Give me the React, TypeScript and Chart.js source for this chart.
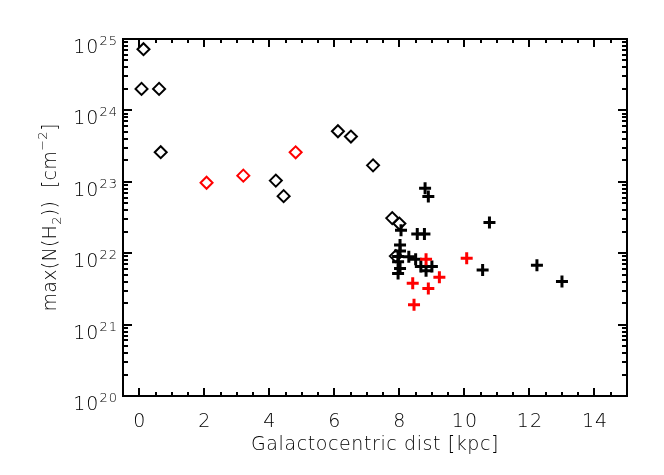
import React, { useEffect, useRef } from "react";
import { Chart, registerables } from "chart.js";

Chart.register(...registerables);

// ---- data (Galactocentric distance [kpc], max N(H2) [cm^-2]) ----
const blackDiamondX = [0.13, 0.07, 0.61, 0.66, 4.2, 4.44, 6.11, 6.51, 7.19, 7.78, 8.0, 7.89];
const blackDiamondY = [7.2e24, 2.0e24, 2.0e24, 2.6e23, 1.04e23, 6.3e22, 5.1e23, 4.3e23, 1.7e23, 3.1e22, 2.6e22, 9.1e21];

const redDiamondX = [2.07, 3.2, 4.81];
const redDiamondY = [9.7e22, 1.22e23, 2.59e23];

const blackPlusX = [8.79, 8.89, 8.05, 8.55, 8.77, 8.02, 8.02, 7.96, 8.29, 8.5, 7.96, 8.02, 7.96, 8.66, 8.82, 9.0, 10.77, 10.56, 12.23, 13.0];
const blackPlusY = [8.1e22, 6.2e22, 2.1e22, 1.86e22, 1.86e22, 1.3e22, 1.07e22, 9.0e21, 8.9e21, 8.2e21, 7.6e21, 6.1e21, 5.2e21, 6.5e21, 5.7e21, 6.5e21, 2.7e22, 5.8e21, 6.8e21, 4.0e21];

const redPlusX = [8.82, 9.23, 8.41, 8.89, 8.45, 10.07];
const redPlusY = [8.2e21, 4.6e21, 3.8e21, 3.2e21, 1.9e21, 8.5e21];

const xTickValues = [0, 2, 4, 6, 8, 10, 12, 14];
const yDecades = [20, 21, 22, 23, 24, 25];
const xTitle = "Galactocentric dist [kpc]";

const FONT_FAMILY = '"DejaVu Sans", "Liberation Sans", sans-serif';
const TEXT_COLOR = "#000";

const toPoints = (xs: number[], ys: number[]) => xs.map((x, i) => ({ x, y: ys[i] }));

type Seg = { t: string; size: number; dy: number };

function drawSegs(ctx: CanvasRenderingContext2D, segs: Seg[], x: number, y: number) {
  let cx = x;
  for (const s of segs) {
    ctx.font = `200 ${s.size}px ${FONT_FAMILY}`;
    ctx.fillText(s.t, cx, y + s.dy);
    cx += ctx.measureText(s.t).width;
  }
}
function segsWidth(ctx: CanvasRenderingContext2D, segs: Seg[]) {
  let w = 0;
  for (const s of segs) {
    ctx.font = `200 ${s.size}px ${FONT_FAMILY}`;
    w += ctx.measureText(s.t).width;
  }
  return w;
}

export default function App() {
  const ref = useRef<HTMLCanvasElement>(null);

  useEffect(() => {
    document.body.style.margin = "0";
    const canvas = ref.current!;
    const ctx2d = canvas.getContext("2d")!;

    const framePlugin = {
      id: "idlFrame",
      afterDatasetsDraw(chart: any) {
        const ctx: CanvasRenderingContext2D = chart.ctx;
        const { left, right, top, bottom } = chart.chartArea;
        const xs = chart.scales.x;
        const ys = chart.scales.y;
        ctx.save();
        ctx.strokeStyle = "#000";
        ctx.lineWidth = 2;
        ctx.lineCap = "butt";
        const line = (x1: number, y1: number, x2: number, y2: number) => {
          ctx.beginPath();
          ctx.moveTo(x1, y1);
          ctx.lineTo(x2, y2);
          ctx.stroke();
        };
        // x ticks (major every 2, minor every 0.5), bottom & top
        for (let k = -1; k <= 30; k++) {
          const v = k * 0.5;
          const px = Math.round(xs.getPixelForValue(v));
          if (px <= left + 1 || px >= right - 1) continue;
          const major = xTickValues.includes(v);
          const len = major ? 8 : 4;
          line(px, bottom, px, bottom - len);
          line(px, top, px, top + len);
        }
        // y ticks (log), left & right
        for (const d of yDecades) {
          for (let m = 1; m <= 9; m++) {
            if (d === 25 && m > 1) break;
            const v = m * Math.pow(10, d);
            const py = Math.round(ys.getPixelForValue(v));
            if (py <= top + 1 || py >= bottom - 1) continue;
            const len = m === 1 ? 9 : 5;
            line(left, py, left + len, py);
            line(right, py, right - len, py);
          }
        }
        // frame
        ctx.strokeRect(left, top, right - left, bottom - top);

        // labels
        ctx.fillStyle = TEXT_COLOR;
        ctx.textBaseline = "alphabetic";
        ctx.textAlign = "left";
        // x tick labels
        (ctx as any).letterSpacing = "1px";
        ctx.font = `200 19px ${FONT_FAMILY}`;
        for (const v of xTickValues) {
          const px = xs.getPixelForValue(v);
          const t = String(v);
          const w = ctx.measureText(t).width;
          ctx.fillText(t, px - w / 2 + 0.5, bottom + 31);
        }
        // y tick labels 10^n
        for (const d of yDecades) {
          const py = ys.getPixelForValue(Math.pow(10, d));
          const segs: Seg[] = [
            { t: "10", size: 19, dy: 0 },
            { t: String(d), size: 13, dy: -8 },
          ];
          const w = segsWidth(ctx, segs);
          drawSegs(ctx, segs, 118 - w, py + 14);
        }
        // x title
        {
          (ctx as any).letterSpacing = "0.6px";
          ctx.font = `200 19px ${FONT_FAMILY}`;
          const w = ctx.measureText(xTitle).width;
          ctx.fillText(xTitle, (left + right) / 2 - w / 2, bottom + 54);
        }
        // y title (rotated)
        {
          (ctx as any).letterSpacing = "0.3px";
          const segs: Seg[] = [
            { t: "max(N(H", size: 19, dy: 0 },
            { t: "2", size: 13, dy: 5 },
            { t: "))  [cm", size: 19, dy: 0 },
            { t: "\u22122", size: 13, dy: -9 },
            { t: "]", size: 19, dy: 0 },
          ];
          const w = segsWidth(ctx, segs);
          ctx.translate(49, (top + bottom) / 2);
          ctx.rotate(-Math.PI / 2);
          drawSegs(ctx, segs, -w / 2, 7);
        }
        ctx.restore();
      },
    };

    const chart = new Chart(ctx2d, {
      type: "scatter",
      data: {
        datasets: [
          {
            label: "red plus",
            data: toPoints(redPlusX, redPlusY),
            pointStyle: "cross",
            pointRadius: 6,
            borderWidth: 3,
            borderColor: "#ff0000",
            backgroundColor: "#ff0000",
            order: 1,
          },
          {
            label: "black plus",
            data: toPoints(blackPlusX, blackPlusY),
            pointStyle: "cross",
            pointRadius: 6,
            borderWidth: 3,
            borderColor: "#000000",
            backgroundColor: "#000000",
            order: 2,
          },
          {
            label: "red diamond",
            data: toPoints(redDiamondX, redDiamondY),
            pointStyle: "rectRot",
            pointRadius: 6,
            borderWidth: 2,
            borderColor: "#ff0000",
            backgroundColor: "rgba(0,0,0,0)",
            order: 3,
          },
          {
            label: "black diamond",
            data: toPoints(blackDiamondX, blackDiamondY),
            pointStyle: "rectRot",
            pointRadius: 6,
            borderWidth: 2,
            borderColor: "#000000",
            backgroundColor: "rgba(0,0,0,0)",
            order: 4,
          },
        ],
      },
      options: {
        animation: false,
        responsive: false,
        devicePixelRatio: 1,
        layout: { padding: { left: 123, top: 39, right: 37, bottom: 79 } },
        plugins: { legend: { display: false }, tooltip: { enabled: false } },
        scales: {
          x: { type: "linear", min: -0.5, max: 15, display: false },
          y: { type: "logarithmic", min: 1e20, max: 1e25, display: false },
        },
      },
      plugins: [framePlugin],
    });
    return () => chart.destroy();
  }, []);

  return (
    <div style={{ position: "absolute", left: 0, top: 0, width: 664, height: 475, background: "#fff" }}>
      <canvas ref={ref} width={664} height={475} style={{ display: "block" }} />
    </div>
  );
}
